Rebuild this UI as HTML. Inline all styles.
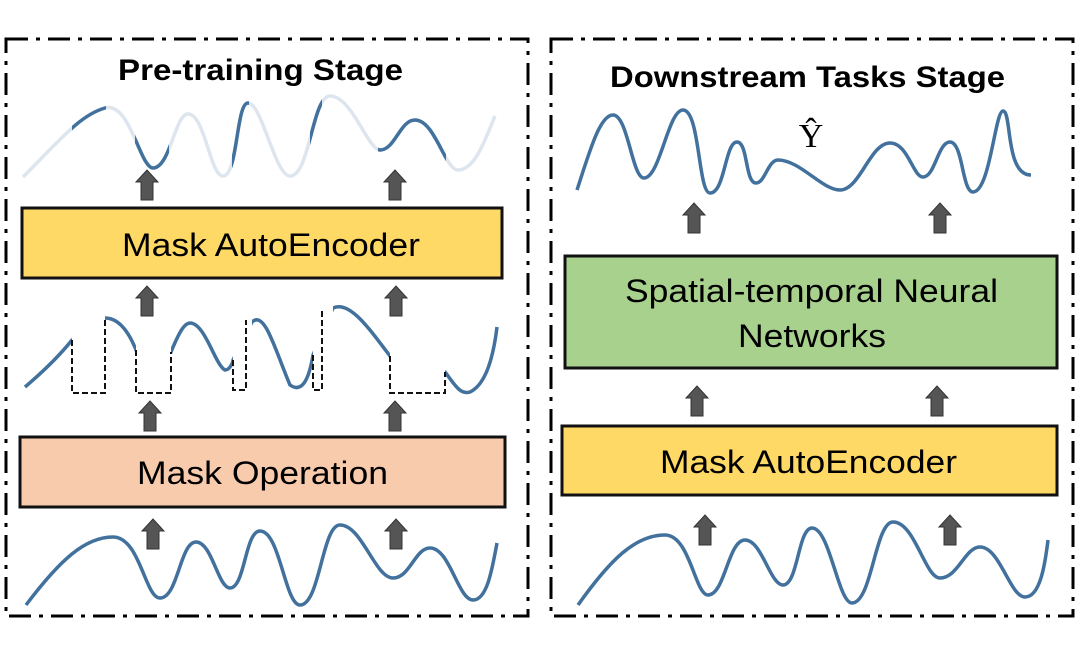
<!DOCTYPE html>
<html><head><meta charset="utf-8"><style>
html,body{margin:0;padding:0;background:#fff}
svg{display:block}
text{font-family:"Liberation Sans",sans-serif}
</style></head><body>
<svg width="1080" height="652" viewBox="0 0 1080 652" xmlns="http://www.w3.org/2000/svg">
<defs>
<g id="ar"><polygon points="-6,30 6,30 6,12 11,12 0,0 -11,12 -6,12" fill="#555" stroke="#333" stroke-width="1"/></g>
<clipPath id="c1"><rect x="72" y="0" width="34" height="652"/><rect x="135" y="0" width="34" height="652"/><rect x="232" y="0" width="17" height="652"/><rect x="310" y="0" width="12" height="652"/><rect x="378" y="0" width="68" height="652"/></clipPath>
<clipPath id="c2"><rect x="20" y="0" width="52" height="652"/><rect x="105" y="0" width="31" height="652"/><rect x="171" y="0" width="62" height="652"/><rect x="252" y="0" width="61" height="652"/><rect x="333" y="0" width="57" height="652"/><rect x="445" y="0" width="60" height="652"/></clipPath>
</defs>
<rect x="6" y="39" width="522" height="577" fill="none" stroke="#000" stroke-width="3" stroke-dasharray="22,8,4,8"/>
<rect x="551" y="39" width="522" height="577" fill="none" stroke="#000" stroke-width="3" stroke-dasharray="22,8,4,8"/>
<text x="118" y="80" font-size="30" font-weight="bold" textLength="285" lengthAdjust="spacingAndGlyphs">Pre-training Stage</text>
<text x="610" y="87" font-size="30" font-weight="bold" textLength="395" lengthAdjust="spacingAndGlyphs">Downstream Tasks Stage</text>

<path d="M23,177 C60,140 80,115 105,108 C130,101 140,168 153,168 C170,168 175,114 188,114 C205,114 210,176 223,176 C238,176 236,103 248,103 C262,103 275,176 290,176 C310,176 312,96 330,96 C352,96 368,150 380,150 C395,150 400,120 415,120 C435,120 445,170 458,170 C475,170 485,140 495,116" fill="none" stroke="#dde6ee" stroke-width="3.5"/>
<path d="M23,177 C60,140 80,115 105,108 C130,101 140,168 153,168 C170,168 175,114 188,114 C205,114 210,176 223,176 C238,176 236,103 248,103 C262,103 275,176 290,176 C310,176 312,96 330,96 C352,96 368,150 380,150 C395,150 400,120 415,120 C435,120 445,170 458,170 C475,170 485,140 495,116" fill="none" stroke="#41719c" stroke-width="3.5" clip-path="url(#c1)"/>
<use href="#ar" x="147" y="170"/><use href="#ar" x="395" y="170"/>
<rect x="22" y="208" width="480" height="70" fill="#FFD966" stroke="#111" stroke-width="3"/>
<text x="122" y="256" font-size="32" textLength="298" lengthAdjust="spacingAndGlyphs">Mask AutoEncoder</text>
<use href="#ar" x="147" y="286"/><use href="#ar" x="396" y="286"/>

<path d="M25,387 C45,370 60,355 72,340 L105,318 C120,318 130,335 136,350 L171,352 C180,330 185,323 190,323 C205,323 215,365 225,370 C230,370 233,362 233,360 L252,322 C265,310 275,350 290,385 C300,392 308,385 313,355 L333,308 C350,300 370,330 390,356 L445,372 C455,385 460,395 470,392 C485,385 493,360 497,327" fill="none" stroke="#41719c" stroke-width="3.5" clip-path="url(#c2)"/>
<g fill="none" stroke="#111" stroke-width="2" stroke-dasharray="6,3">
<path d="M72,340 V393 H105 V318"/>
<path d="M136,350 V393 H171 V352"/>
<path d="M233,360 V390 H246 V320"/>
<path d="M313,355 V390 H322 V308"/>
<path d="M390,356 V393 H445 V372"/>
</g>
<use href="#ar" x="150" y="401"/><use href="#ar" x="395" y="401"/>
<rect x="20" y="437" width="485" height="70" fill="#F8CBAD" stroke="#111" stroke-width="3"/>
<text x="137" y="484" font-size="32" textLength="251" lengthAdjust="spacingAndGlyphs">Mask Operation</text>
<use href="#ar" x="153" y="519"/><use href="#ar" x="396" y="519"/>
<path d="M26,605 C60,560 85,537 113,537 C140,537 145,598 160,598 C178,598 180,542 196,542 C212,542 218,588 230,588 C245,588 245,531 260,531 C280,531 285,605 300,605 C320,605 322,525 340,525 C362,525 375,578 393,578 C410,578 415,548 430,548 C450,548 458,600 473,600 C487,600 492,570 497,543" fill="none" stroke="#41719c" stroke-width="3.5"/>

<path d="M577,190 C590,150 600,115 613,115 C628,115 632,178 644,178 C660,178 668,110 683,110 C700,110 698,193 710,193 C725,193 725,142 737,142 C748,142 745,183 756,183 C765,183 768,160 778,160 C800,160 822,190 840,190 C860,190 870,143 890,143 C908,143 913,177 923,177 C935,177 938,142 950,142 C963,142 962,192 973,192 C990,192 995,111 1003,111 C1012,111 1005,175 1031,175" fill="none" stroke="#41719c" stroke-width="3.5"/>
<text x="811" y="147" font-size="34" text-anchor="middle" style="font-family:'Liberation Serif',serif">Ŷ</text>
<use href="#ar" x="694" y="203"/><use href="#ar" x="940" y="203"/>
<rect x="565" y="256" width="492" height="112" fill="#A9D18E" stroke="#111" stroke-width="3"/>
<text x="625" y="302" font-size="32" textLength="373" lengthAdjust="spacingAndGlyphs">Spatial-temporal Neural</text>
<text x="738" y="347" font-size="32" textLength="148" lengthAdjust="spacingAndGlyphs">Networks</text>
<use href="#ar" x="697" y="386"/><use href="#ar" x="937" y="386"/>
<rect x="562" y="426" width="495" height="69" fill="#FFD966" stroke="#111" stroke-width="3"/>
<text x="660" y="473" font-size="32" textLength="297" lengthAdjust="spacingAndGlyphs">Mask AutoEncoder</text>
<use href="#ar" x="705" y="515"/><use href="#ar" x="950" y="515"/>
<path d="M578,605 C610,560 635,535 665,535 C690,535 695,595 708,595 C725,595 728,540 745,540 C762,540 770,585 783,585 C798,585 798,528 812,528 C830,528 838,603 852,603 C872,603 875,522 893,522 C915,522 925,578 940,578 C958,578 965,547 980,547 C1000,547 1010,597 1025,597 C1040,597 1045,565 1048,540" fill="none" stroke="#41719c" stroke-width="3.5"/>
</svg>
</body></html>
